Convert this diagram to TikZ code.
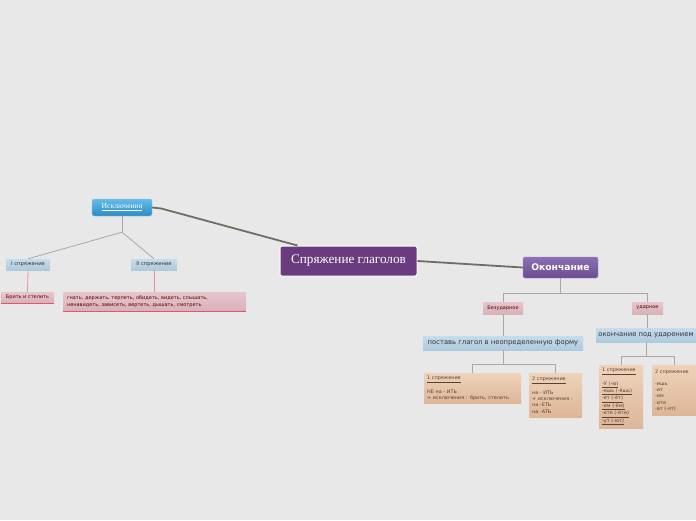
\documentclass[tikz,border=0pt]{standalone}
\usepackage{fontspec}
\setmainfont{Liberation Serif}
\newfontfamily\vfont{DejaVu Sans}
\usetikzlibrary{positioning,shadows,calc}

\definecolor{bgpaper}{HTML}{E8E8E8}
\definecolor{rootpurple}{HTML}{6A3B7E}
\definecolor{okontop}{HTML}{8C70B4}
\definecolor{okonbot}{HTML}{6A4C92}
\definecolor{exctop}{HTML}{62BCE8}
\definecolor{excbot}{HTML}{2F8AC4}
\definecolor{topictop}{HTML}{C6DCEB}
\definecolor{topicbot}{HTML}{AECADD}
\definecolor{leaftop}{HTML}{E6C6CD}
\definecolor{leafbot}{HTML}{D9B0BA}
\definecolor{leafred}{HTML}{E0566A}
\definecolor{leafline}{HTML}{E8909C}
\definecolor{notetop}{HTML}{EDD3BA}
\definecolor{notebot}{HTML}{DDB698}
\definecolor{notetext}{HTML}{5C4030}
\definecolor{mainline}{HTML}{6E6E64}
\definecolor{subline}{HTML}{A8A8A4}

\begin{document}
\begin{tikzpicture}[
  x=1pt, y=-1pt,
  root/.style={rectangle, draw=white, line width=1pt, rounded corners=2pt, fill=rootpurple, text=white,
    minimum width=137pt, minimum height=30pt, font=\fontsize{13.2}{15}\selectfont, anchor=center},
  okon/.style={rectangle, draw=okontop!80!white, rounded corners=2pt, top color=okontop, bottom color=okonbot,
    text=white, minimum width=75pt, minimum height=21pt, font=\vfont\bfseries\fontsize{9.2}{10}\selectfont, anchor=center},
  excl/.style={rectangle, draw=exctop!70!white, rounded corners=2pt, top color=exctop, bottom color=excbot,
    text=white, minimum width=60pt, minimum height=17pt, font=\fontsize{7.6}{9}\selectfont, anchor=center},
  topic/.style={rectangle, top color=topictop, bottom color=topicbot, text=black!80,
    drop shadow={shadow xshift=0pt, shadow yshift=-1pt, opacity=0.25},
    inner sep=0pt, minimum height=11pt, anchor=center},
  leaf/.style={rectangle, top color=leaftop, bottom color=leafbot, text=red!35!black,
    drop shadow={shadow xshift=0pt, shadow yshift=-1pt, opacity=0.25},
    inner sep=0pt, minimum height=11pt, anchor=center},
  note/.style={rectangle, top color=notetop, bottom color=notebot, text=notetext,
    drop shadow={shadow xshift=0pt, shadow yshift=-1pt, opacity=0.25},
    anchor=north west, align=left, inner sep=3pt, font=\vfont\fontsize{4.9}{6.3}\selectfont},
  trunk/.style={draw=mainline, line width=1.8pt},
  twig/.style={draw=subline, line width=0.8pt},
  pinktwig/.style={draw=leafline, line width=0.8pt},
  redline/.style={draw=leafred, line width=1pt}
]
\useasboundingbox[fill=bgpaper] (0,0) rectangle (696,520);

% Central topic and main branches
\node[root] (root) at (348.5,261) {Спряжение глаголов};
\node[okon] (okon) at (560.5,267.5) {Окончание};
\node[excl] (exc) at (122,207.5) {\underline{Исключения}};
\draw[trunk] (exc.east) -- ++(9,1) -- ($(root.north west)+(18,0)$);
\draw[trunk] (root.east) -- (okon.west);

% Left side, exceptions
\node[topic, minimum width=44pt, font=\vfont\fontsize{5.2}{6}\selectfont] (s1) at (28,264.5) {I спряжение};
\node[topic, minimum width=46pt, font=\vfont\fontsize{5.2}{6}\selectfont] (s2) at (154,264.5) {II спряжение};
\draw[twig] (exc.south) -- ++(0,16) coordinate (ej);
\draw[twig] (ej) -- (s1.north);
\draw[twig] (ej) -- (s2.north);
\node[leaf, minimum width=53pt, font=\vfont\fontsize{5}{6}\selectfont] (brit) at (27.5,297.5) {Брить и стелить};
\node[leaf, minimum width=183pt, minimum height=19pt, inner xsep=4pt, align=left, text width=175pt,
  font=\vfont\fontsize{5}{6.8}\selectfont] (gnat) at (154.5,301.5)
  {гнать, держать, терпеть, обидеть, видеть, слышать,\\ненавидеть, зависеть, вертеть, дышать, смотреть};
\draw[pinktwig] (s1.south) -- (brit.north);
\draw[pinktwig] (s2.south) -- (gnat.north -| s2.south);
\draw[redline] (brit.south west) -- (brit.south east);
\draw[redline] (gnat.south west) -- (gnat.south east);

% Right side, endings
\node[leaf, minimum width=40pt, minimum height=12pt, font=\vfont\fontsize{5}{6}\selectfont] (bez) at (503,308) {Безударное};
\node[leaf, minimum width=31pt, minimum height=12pt, font=\vfont\fontsize{5}{6}\selectfont] (udar) at (647.5,308) {ударное};
\draw[twig] (okon.south) -- ++(0,15) coordinate (oj);
\draw[twig] (oj) -| (bez.north);
\draw[twig] (oj) -| (udar.north);
\node[topic, minimum width=160pt, minimum height=14pt, font=\vfont\fontsize{6.8}{8}\selectfont] (inf) at (503,343)
  {поставь глагол в неопределенную форму};
\node[topic, minimum width=100pt, minimum height=14pt, font=\vfont\fontsize{6.8}{8}\selectfont] (pod) at (646,335)
  {окончание под ударением};
\draw[twig] (bez.south) -- (inf.north);
\draw[twig] (udar.south) -- (udar.south |- pod.north);

% Notes under the unstressed ending
\node[note, text width=91pt, minimum height=30pt] (n1) at (424,373)
  {\underline{1 спряжение}\\[5.7pt]НЕ на - ИТЬ\\+ исключения : брить, стелить};
\node[note, text width=47pt, minimum height=44pt] (n2) at (529,373)
  {\underline{2 спряжение}\\[5.7pt]на - ИТЬ\\+ исключения :\\на -ЕТЬ\\на -АТЬ};
\draw[twig] (inf.south) -- ++(0,14) coordinate (pj);
\draw[twig] (pj) -| (n1.north);
\draw[twig] (pj) -| (n2.north);

% Notes under the stressed ending
\node[note, text width=38pt, minimum height=58pt] (n3) at (599,365)
  {\underline{1 спряжение}\\[5.7pt]\underline{-У (-ю)}\\\underline{-ешь (-ёшь)}\\\underline{-ет (-ёт)}\\\underline{-ем (-ём)}\\\underline{-ете (-ёте)}\\\underline{-ут (-ют)}};
\node[note, text width=38pt, minimum height=50pt] (n4) at (652,365)
  {2 спряжение\\[5.7pt]-ишь\\-ит\\-им\\-ите\\-ат (-ят)};
\draw[twig] (pod.south) -- ++(0,14) coordinate (qj);
\draw[twig] (qj) -| (n3.north);
\draw[twig] (qj) -| (n4.north);
\end{tikzpicture}
\end{document}
